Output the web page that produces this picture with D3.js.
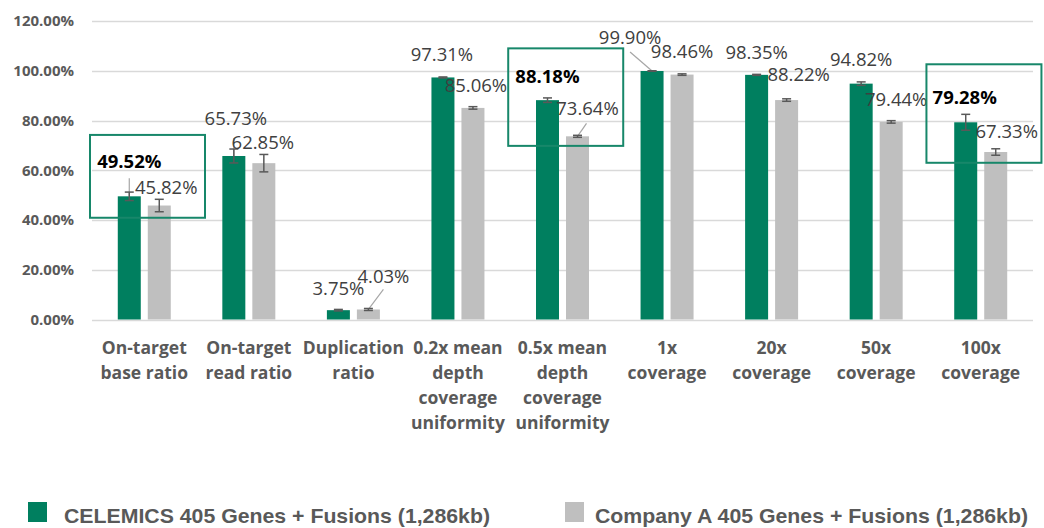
<!DOCTYPE html>
<html>
<head>
<meta charset="utf-8">
<title>Panel performance</title>
<script src="https://cdn.jsdelivr.net/npm/d3@7"></script>
<style>
  body { margin: 0; background: #fff; }
  text { font-family: "Open Sans", sans-serif; }
</style>
</head>
<body>
<div id="chart"></div>
<script>
// categories (each one split into the label lines)
var categories = [
  ["On-target", "base ratio"],
  ["On-target", "read ratio"],
  ["Duplication", "ratio"],
  ["0.2x mean", "depth", "coverage", "uniformity"],
  ["0.5x mean", "depth", "coverage", "uniformity"],
  ["1x", "coverage"],
  ["20x", "coverage"],
  ["50x", "coverage"],
  ["100x", "coverage"]
];
var seriesNames = ["CELEMICS 405 Genes + Fusions (1,286kb)", "Company A 405 Genes + Fusions (1,286kb)"];
var celemics = [49.52, 65.73, 3.75, 97.31, 88.18, 99.90, 98.35, 94.82, 79.28];
var companyA = [45.82, 62.85, 4.03, 85.06, 73.64, 98.46, 88.22, 79.44, 67.33];
var celemicsErr = [1.7, 2.8, 0.3, 0.2, 0.9, 0.1, 0.2, 0.7, 3.2];
var companyAErr = [2.5, 3.5, 0.4, 0.5, 0.4, 0.3, 0.5, 0.5, 1.3];
var yTicks = [0, 20, 40, 60, 80, 100, 120];
// categories whose CELEMICS value is boxed and bold, with the box range in %
var highlights = [
  { cat: 0, top: 74.2, bottom: 40.9 },
  { cat: 4, top: 109.0, bottom: 69.8 },
  { cat: 8, top: 102.6, bottom: 63.0 }
];

// label offsets from the top centre of each bar (hand placed like in the excel chart)
var labelOffsets = [
  [[0, -35], [7, -18]],
  [[2, -38], [-1, -21]],
  [[0, -22], [15, -33]],
  [[-1, -23], [3, -23]],
  [[0, -24], [10, -28]],
  [[-22, -34], [0, -23]],
  [[0, -23], [12, -26]],
  [[0, -24], [5, -23]],
  [[-1, -25], [11, -21]]
];
// leader lines: [category, series, end dx, end dy]
var leaders = [
  [0, 0, 0, -18],
  [1, 0, 0, -18],
  [2, 1, 15, -20],
  [4, 1, 9, -13],
  [5, 0, -22, -19]
];

var W = 1044, H = 528;
var colors = ["#007F5F", "#BFBFBF"];

var svg = d3.select("#chart").append("svg")
  .attr("width", W).attr("height", H);
svg.append("rect").attr("width", W).attr("height", H).attr("fill", "#fff");

var x0 = d3.scaleBand().domain(d3.range(categories.length)).range([92, 1033]);
var x1 = d3.scaleBand().domain([0, 1]).range([0, 53]).paddingInner(7 / 30);
var groupOff = (x0.bandwidth() - 53) / 2;
var y = d3.scaleLinear().domain([0, 120]).range([319.5, 21]);

// gridlines
svg.append("g").selectAll("line").data(yTicks).enter().append("line")
  .attr("x1", 92).attr("x2", 1033)
  .attr("y1", function(d) { return Math.round(y(d)) + 0.5; })
  .attr("y2", function(d) { return Math.round(y(d)) + 0.5; })
  .attr("stroke", "#d9d9d9").attr("stroke-width", 1.3);

// y axis labels
var yAxis = svg.append("g").attr("transform", "translate(74,0)")
  .call(d3.axisLeft(y).tickValues(yTicks).tickSize(0).tickPadding(0)
    .tickFormat(function(d) { return d.toFixed(2) + "%"; }));
yAxis.select(".domain").remove();
yAxis.selectAll("text")
  .style("font-family", "'Open Sans', sans-serif").attr("font-size", 15).attr("font-weight", "bold")
  .attr("fill", "#595959");

var data = [];
categories.forEach(function(c, i) {
  data.push({ cat: i, s: 0, v: celemics[i], e: celemicsErr[i] });
  data.push({ cat: i, s: 1, v: companyA[i], e: companyAErr[i] });
});
function cx(d) { return x0(d.cat) + groupOff + x1(d.s) + x1.bandwidth() / 2; }

// bars
svg.append("g").selectAll("rect").data(data).enter().append("rect")
  .attr("x", function(d) { return x0(d.cat) + groupOff + x1(d.s); })
  .attr("y", function(d) { return y(d.v); })
  .attr("width", x1.bandwidth())
  .attr("height", function(d) { return y(0) - y(d.v); })
  .attr("fill", function(d) { return colors[d.s]; });

// leader lines
svg.append("g").selectAll("line").data(leaders).enter().append("line")
  .attr("x1", function(l) { return cx({ cat: l[0], s: l[1] }); })
  .attr("y1", function(l) { return y(l[1] ? companyA[l[0]] : celemics[l[0]]); })
  .attr("x2", function(l) { return cx({ cat: l[0], s: l[1] }) + l[2]; })
  .attr("y2", function(l) { return y(l[1] ? companyA[l[0]] : celemics[l[0]]) + l[3]; })
  .attr("stroke", "#a6a6a6").attr("stroke-width", 1.2);

// error bars
var eb = svg.append("g").attr("stroke", "#595959").attr("stroke-width", 1.5);
data.forEach(function(d) {
  var x = cx(d), yt = y(d.v + d.e), yb = y(d.v - d.e);
  eb.append("line").attr("x1", x).attr("x2", x).attr("y1", yt).attr("y2", yb);
  eb.append("line").attr("x1", x - 4.5).attr("x2", x + 4.5).attr("y1", yt).attr("y2", yt);
  eb.append("line").attr("x1", x - 4.5).attr("x2", x + 4.5).attr("y1", yb).attr("y2", yb);
});

// value labels
var hiCats = highlights.map(function(h) { return h.cat; });
svg.append("g").selectAll("text").data(data).enter().append("text")
  .attr("x", function(d) { return cx(d) + labelOffsets[d.cat][d.s][0]; })
  .attr("y", function(d) { return y(d.v) + labelOffsets[d.cat][d.s][1]; })
  .attr("dy", "0.36em")
  .attr("text-anchor", "middle")
  .attr("font-size", 18.5)
  .attr("font-weight", function(d) { return d.s === 0 && hiCats.indexOf(d.cat) >= 0 ? "bold" : "normal"; })
  .attr("fill", function(d) { return d.s === 0 && hiCats.indexOf(d.cat) >= 0 ? "#000" : "#404040"; })
  .text(function(d) { return d.v.toFixed(2) + "%"; });

// highlight boxes
svg.append("g").selectAll("rect").data(highlights).enter().append("rect")
  .attr("x", function(h) { return x0(h.cat) - 2; })
  .attr("y", function(h) { return y(h.top); })
  .attr("width", 115)
  .attr("height", function(h) { return y(h.bottom) - y(h.top); })
  .attr("fill", "none").attr("stroke", "#17876A").attr("stroke-width", 2);

// category labels
var xl = svg.append("g");
categories.forEach(function(lines, i) {
  var t = xl.append("text")
    .attr("x", x0(i) + x0.bandwidth() / 2).attr("y", 354)
    .attr("text-anchor", "middle").attr("font-size", 17.5).attr("font-weight", "bold")
    .attr("fill", "#595959");
  lines.forEach(function(s, k) {
    t.append("tspan").attr("x", x0(i) + x0.bandwidth() / 2).attr("dy", k ? 25 : 0).text(s);
  });
});

// legend
var legX = [28, 565], legTextX = [64, 595], legW = [426, 433];
var lg = svg.append("g");
seriesNames.forEach(function(n, i) {
  lg.append("rect").attr("x", legX[i]).attr("y", 502).attr("width", 19).attr("height", 20)
    .attr("fill", colors[i]);
  lg.append("text").attr("x", legTextX[i]).attr("y", 523)
    .style("font-family", "'Liberation Sans Narrow', 'Liberation Sans', Arial, sans-serif")
    .attr("font-size", 21).attr("font-weight", "bold").attr("fill", "#595959")
    .attr("textLength", legW[i]).attr("lengthAdjust", "spacingAndGlyphs")
    .text(n);
});
</script>
</body>
</html>
